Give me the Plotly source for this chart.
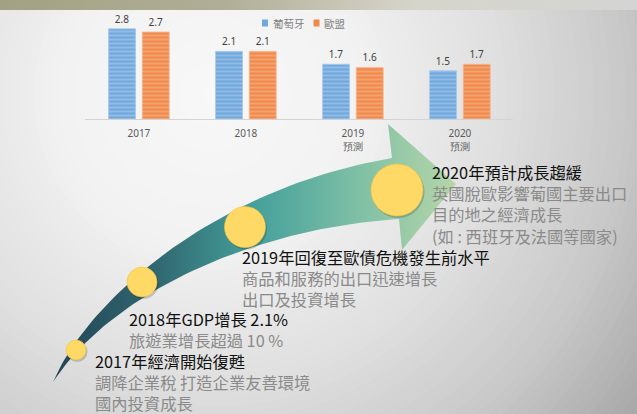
import numpy as np
import plotly.graph_objects as go

W, H = 637, 414

# ---------------- data ----------------
years = ["2017", "2018", "2019", "2020"]
tick_labels = ["2017", "2018", "2019<br>預測", "2020<br>預測"]
series_names = ["葡萄牙", "歐盟"]
portugal = [2.8, 2.1, 1.7, 1.5]
eu = [2.7, 2.1, 1.6, 1.7]

titles = ["2017年經濟開始復甦", "2018年GDP增長 2.1%",
          "2019年回復至歐債危機發生前水平", "2020年預計成長趨緩"]
details = [["調降企業稅 打造企業友善環境", "國內投資成長"],
           ["旅遊業增長超過 10 %"],
           ["商品和服務的出口迅速增長", "出口及投資增長"],
           ["英國脫歐影響葡國主要出口", "目的地之經濟成長", "(如 : 西班牙及法國等國家)"]]

# ---------------- styling / layout constants (pixels) ----------------
text_x = [93, 127, 240, 430]
title_y = [361, 319, 257, 172]
dot_c = [(76, 350), (142, 282), (245, 227), (397, 190)]
dot_r = [10, 15, 20.5, 26]
FS = 16.3
LH = 1.3 * FS

CJK = "Noto Sans CJK TC"
fig = go.Figure()

# ---- background radial gradient (concentric circles) ----
bg_center = (210, 95)
stop_r = [0, 150, 300, 420, 520, 620, 760]
stop_g = [248, 242, 222, 200, 172, 152, 140]
shapes = []
for r in np.arange(760, 0, -8):
    g = int(round(np.interp(r, stop_r, stop_g)))
    shapes.append(dict(type="circle", xref="x", yref="y", layer="below",
                       x0=bg_center[0] - r, x1=bg_center[0] + r,
                       y0=bg_center[1] - r, y1=bg_center[1] + r,
                       fillcolor=f"rgb({g},{g},{g})", line=dict(width=0)))

# ---- top band ----
fig.add_trace(go.Scatter(x=[0, W, W, 0, 0], y=[0, 0, 10, 10, 0], mode="lines",
                         fill="toself", line=dict(width=0), hoverinfo="skip",
                         fillgradient=dict(type="horizontal",
                                           colorscale=[[0, "#a3a184"], [0.35, "#b0ae96"],
                                                       [0.65, "#d6d5cb"], [1, "#d4d4d4"]]),
                         xaxis="x", yaxis="y", showlegend=False))

# ---- curved arrow ----
def bez(p0, c1, c2, p3, n=60):
    t = np.linspace(0, 1, n)[:, None]
    p0, c1, c2, p3 = map(np.array, (p0, c1, c2, p3))
    return ((1 - t) ** 3) * p0 + 3 * ((1 - t) ** 2) * t * c1 + 3 * (1 - t) * t ** 2 * c2 + t ** 3 * p3

tail = (53, 382)
upper = bez(tail, (88, 300), (215, 188), (392, 158))
lower = bez(tail, (112, 292), (255, 228), (399, 219))
head = np.array([(388, 124), (456, 184), (402, 250)])
poly = np.vstack([upper, head, lower[::-1]])
fig.add_trace(go.Scatter(x=poly[:, 0], y=poly[:, 1], mode="lines", fill="toself",
                         line=dict(width=0), hoverinfo="skip", showlegend=False,
                         fillgradient=dict(type="horizontal",
                                           colorscale=[[0, "#234556"], [0.25, "#30666f"],
                                                       [0.5, "#45a09b"], [0.75, "#7dbfa5"],
                                                       [1, "#b6d6a9"]]),
                         xaxis="x", yaxis="y"))

# ---- yellow dots ----
for (cx, cy), r in zip(dot_c, dot_r):
    shapes.append(dict(type="circle", xref="x", yref="y", layer="above",
                       x0=cx - r + 1, x1=cx + r + 1.5, y0=cy - r + 1.5, y1=cy + r + 2,
                       fillcolor="rgba(0,0,0,0.18)", line=dict(width=0)))
    shapes.append(dict(type="circle", xref="x", yref="y", layer="above",
                       x0=cx - r, x1=cx + r, y0=cy - r, y1=cy + r,
                       fillcolor="#ffd965", line=dict(width=0.6, color="#f1c443")))

# ---- manual legend ----
leg_cols = ["#6fa8dc", "#f0894a"]
leg_x = [262, 313.5]
for name, col, lx in zip(series_names, leg_cols, leg_x):
    shapes.append(dict(type="rect", xref="x", yref="y", layer="above",
                       x0=lx, x1=lx + 6, y0=19.5, y1=26.5, fillcolor=col, line=dict(width=0)))
annotations = []
for name, lx in zip(series_names, leg_x):
    annotations.append(dict(x=lx + 8.5, y=23, xref="x", yref="y", text=name, showarrow=False,
                            xanchor="left", yanchor="middle",
                            font=dict(family=CJK, size=10.5, color="#808080")))

# ---- text blocks (one annotation per block) ----
for tx, ty, ttl, det in zip(text_x, title_y, titles, details):
    n = 1 + len(det)
    txt = f"<span style='color:#111111'>{ttl}</span><br>" + "<br>".join(det)
    annotations.append(dict(x=tx, y=ty + (n - 1) * LH / 2, xref="x", yref="y", text=txt,
                            showarrow=False, xanchor="left", yanchor="middle", align="left",
                            font=dict(family=CJK, size=FS, color="#8a8a8a")))

# ---- bars ----
bar_styles = [("#6fa8dc", "#bcd6f0", "#a8c8ea"), ("#f0894a", "#f8c49e", "#f5b690")]
for name, vals, (bg, fg, ln) in zip(series_names, [portugal, eu], bar_styles):
    fig.add_trace(go.Bar(x=years, y=vals, name=name, xaxis="x2", yaxis="y2",
                         text=[f"{v:.1f}" for v in vals], textposition="outside",
                         textfont=dict(family="Noto Sans", size=10, color="#404040"),
                         cliponaxis=False, hoverinfo="skip",
                         marker=dict(color=bg, line=dict(color=ln, width=0.8),
                                     pattern=dict(shape="-", bgcolor=bg, fgcolor=fg,
                                                  size=4, solidity=0.45)),
                         showlegend=False))

fig.update_layout(
    width=W, height=H, margin=dict(l=0, r=0, t=0, b=0),
    paper_bgcolor="#a8a8a8", plot_bgcolor="rgba(0,0,0,0)",
    barmode="group", bargap=0.37, bargroupgap=0.2,
    xaxis=dict(domain=[0, 1], range=[0, W], visible=False, fixedrange=True),
    yaxis=dict(domain=[0, 1], range=[H, 0], visible=False, fixedrange=True),
    xaxis2=dict(domain=[85.4 / W, 513.4 / W], anchor="y2", type="category",
                tickvals=years, ticktext=tick_labels, showline=True, linecolor="#d4d4d4",
                linewidth=1, ticks="", showgrid=False, zeroline=False, ticklabelstandoff=5,
                tickfont=dict(family="Noto Sans", size=10, color="#595959")),
    yaxis2=dict(domain=[1 - 119 / H, 1 - 9.5 / H], anchor="x2", range=[0, 3.4],
                visible=False, showgrid=False, zeroline=False),
    shapes=shapes, annotations=annotations,
)

fig.write_html("out.html", config={"displayModeBar": False},
               post_script="document.body.style.margin='0';document.body.style.overflow='hidden';")
